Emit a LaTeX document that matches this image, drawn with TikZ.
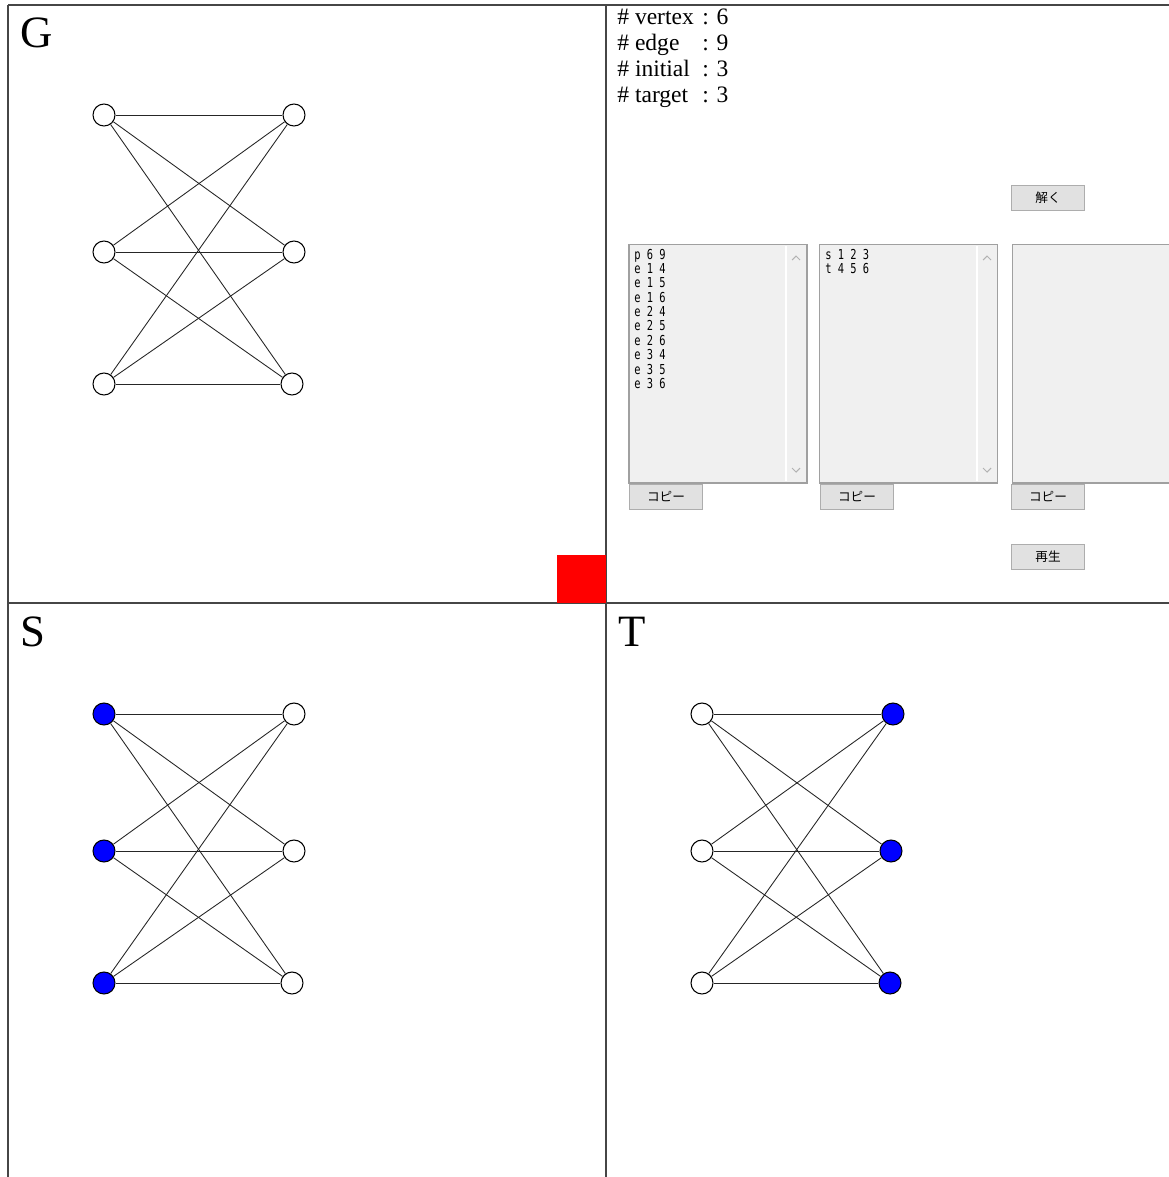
\documentclass[tikz,border=0pt]{standalone}
\usepackage{fontspec}
\setmainfont{Liberation Serif}
\newfontfamily\listfont{DejaVu Sans Mono}
\newfontfamily\jpfont{Noto Sans CJK JP}
\usepackage{tikz}
\definecolor{vblue}{RGB}{0,0,255}
\definecolor{areagray}{RGB}{240,240,240}
\definecolor{areaborder}{RGB}{160,160,160}
\definecolor{btnfill}{RGB}{225,225,225}
\definecolor{btnborder}{RGB}{173,173,173}
\definecolor{framegray}{RGB}{70,70,70}
\newcommand{\squeezelist}[1]{\scalebox{0.76}[1]{\begin{tabular}{@{}l@{}}#1\end{tabular}}}

\begin{document}
\begin{tikzpicture}[x=0.02cm, y=-0.02cm,
    vertex/.style={circle, draw=black, fill=white, line width=0.6pt,
                   minimum size=0.44cm, inner sep=0pt},
    chosen/.style={vertex, fill=vblue},
    link/.style={line width=0.5pt, black!85},
    divider/.style={line width=1pt, framegray},
    panel_label/.style={anchor=base west, inner sep=0pt, font=\fontsize{25.5}{30}\selectfont},
    info_font/.style={anchor=base west, inner sep=0pt, font=\fontsize{13.4}{16}\selectfont},
    textarea/.style={rectangle, draw=areaborder, fill=areagray, line width=0.6pt,
                     minimum width=3.56cm, minimum height=4.78cm, inner sep=0pt},
    button/.style={rectangle, draw=btnborder, fill=btnfill, line width=0.6pt,
                   minimum width=1.46cm, minimum height=0.5cm, inner sep=0pt,
                   font=\jpfont\fontsize{7.2}{8}\selectfont},
    list_font/.style={anchor=north west, inner sep=0pt, text=black,
                      font=\listfont\fontsize{7.8}{7.94}\selectfont},
    chevron/.style={line width=0.6pt, black!30}
  ]
    \useasboundingbox (0,0) rectangle (1169,1177);
    \clip (0,0) rectangle (1169,1177);

    % panel frame
    \draw[divider] (8,5) -- (1169,5);
    \draw[divider] (8,5) -- (8,1177);
    \draw[divider] (606,5) -- (606,1177);
    \draw[divider] (8,603) -- (1169,603);
    \fill[red] (557,555) rectangle (606,603);

    \node[panel_label] (lg) at (20,47)  {G};
    \node[panel_label] (ls) at (20,646) {S};
    \node[panel_label] (lt) at (618,646) {T};

    % graph G
    \node[vertex] (g1) at (104,115) {};
    \node[vertex] (g2) at (104,252) {};
    \node[vertex] (g3) at (104,384) {};
    \node[vertex] (g4) at (294,115) {};
    \node[vertex] (g5) at (294,252) {};
    \node[vertex] (g6) at (292,384) {};

    % initial S
    \node[chosen] (s1) at (104,714) {};
    \node[chosen] (s2) at (104,851) {};
    \node[chosen] (s3) at (104,983) {};
    \node[vertex] (s4) at (294,714) {};
    \node[vertex] (s5) at (294,851) {};
    \node[vertex] (s6) at (292,983) {};

    % target T
    \node[vertex] (t1) at (702,714) {};
    \node[vertex] (t2) at (702,851) {};
    \node[vertex] (t3) at (702,983) {};
    \node[chosen] (t4) at (893,714) {};
    \node[chosen] (t5) at (891,851) {};
    \node[chosen] (t6) at (890,983) {};

    \foreach \p in {g,s,t}
      \foreach \a in {1,2,3}
        \foreach \b in {4,5,6}
          \draw[link] (\p\a) -- (\p\b);

    % counts
    \node[info_font] (nv) at (617,24)  {\# vertex};
    \node[info_font] (ne) at (617,50)  {\# edge};
    \node[info_font] (ni) at (617,76)  {\# initial};
    \node[info_font] (nt) at (617,102) {\# target};
    \node[info_font] (vv) at (702,24)  {: 6};
    \node[info_font] (ve) at (702,50)  {: 9};
    \node[info_font] (vi) at (702,76)  {: 3};
    \node[info_font] (vt) at (702,102) {: 3};

    % text areas
    \node[textarea] (area1) at (718,363.5) {};
    \node[textarea] (area2) at (908.5,363.5) {};
    \node[textarea] (area3) at (1101,363.5) {};
    \draw[white, line width=0.8pt] (786,246) -- (786,481);
    \draw[white, line width=0.8pt] (977,246) -- (977,481);
    \draw[chevron] (792,260) -- (796,256) -- (800,260);
    \draw[chevron] (792,468) -- (796,472) -- (800,468);
    \draw[chevron] (983,260) -- (987,256) -- (991,260);
    \draw[chevron] (983,468) -- (987,472) -- (991,468);

    \node[list_font] (graphtext) at (634,249)
      {\squeezelist{p 6 9\\e 1 4\\e 1 5\\e 1 6\\e 2 4\\e 2 5\\e 2 6\\e 3 4\\e 3 5\\e 3 6}};
    \node[list_font] (stext) at (825,249) {\squeezelist{s 1 2 3\\t 4 5 6}};

    % buttons
    \node[button] (solve) at (1048,198) {解く};
    \node[button] (copy1) at (666,497)  {コピー};
    \node[button] (copy2) at (857,497)  {コピー};
    \node[button] (copy3) at (1048,497) {コピー};
    \node[button] (play)  at (1048,557) {再生};
  \end{tikzpicture}
\end{document}
